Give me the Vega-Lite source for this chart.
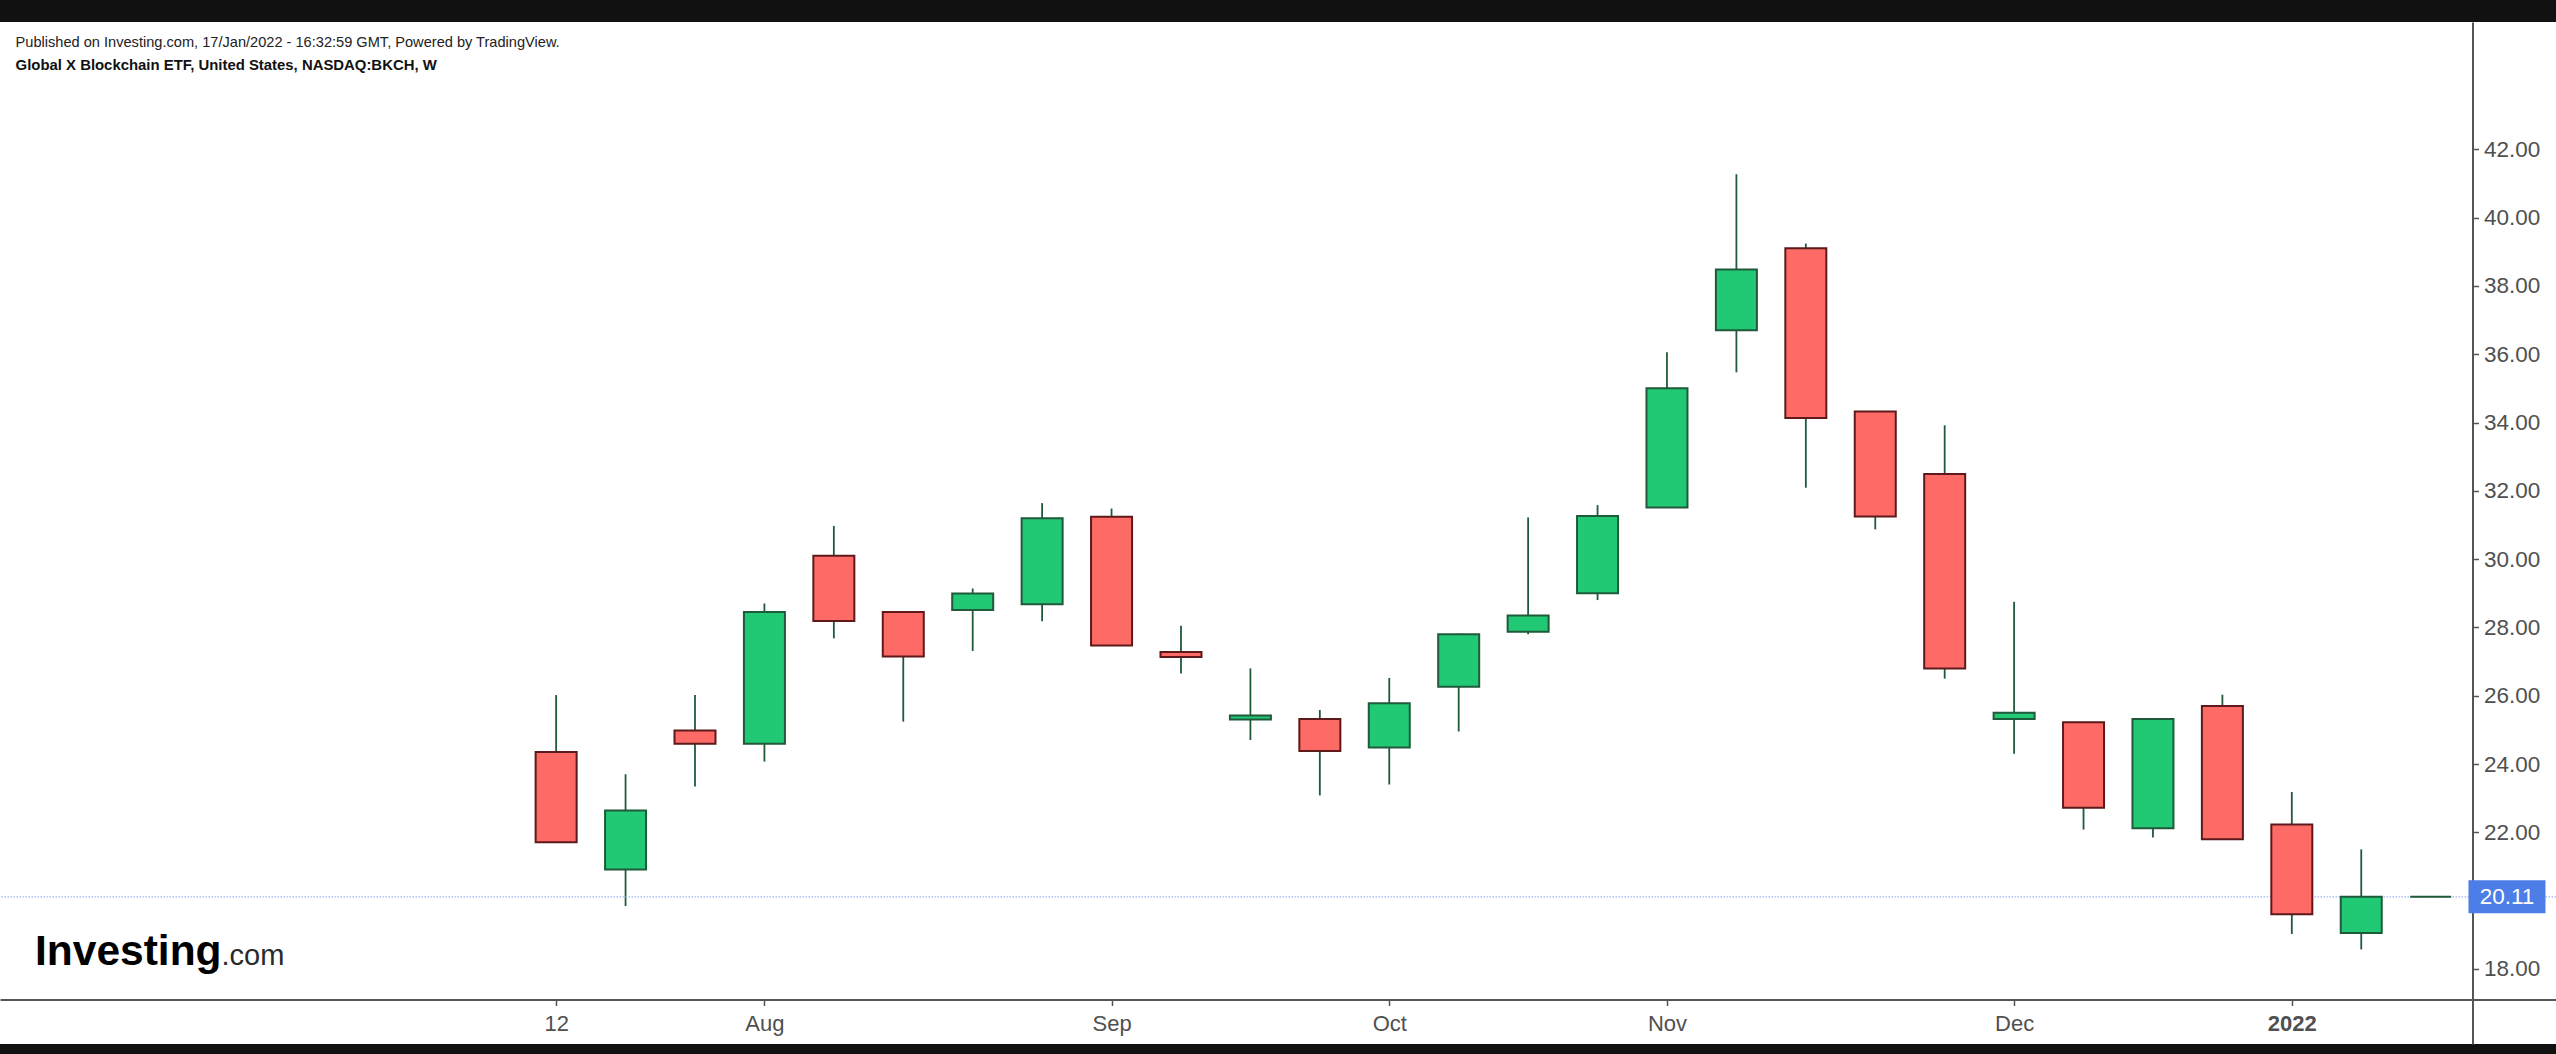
{
  "$schema": "https://vega.github.io/schema/vega-lite/v6.json",
  "width": 2556,
  "height": 1022,
  "autosize": {"type": "none"},
  "padding": {"left": 0, "right": 0, "top": 22, "bottom": 10},
  "background": "#111111",
  "config": {
    "view": {"fill": "#ffffff", "stroke": null},
    "axis": {"grid": false}
  },
  "title": {
    "text": "Published on Investing.com, 17/Jan/2022 - 16:32:59 GMT, Powered by TradingView.",
    "subtitle": "Global X Blockchain ETF, United States, NASDAQ:BKCH, W",
    "anchor": "start",
    "frame": "group",
    "orient": "top",
    "offset": -51,
    "dx": 15.6,
    "font": "Liberation Sans",
    "fontSize": 14.6,
    "fontWeight": "normal",
    "color": "#222222",
    "subtitleFont": "Liberation Sans",
    "subtitleFontSize": 14.9,
    "subtitleFontWeight": "bold",
    "subtitleColor": "#111111",
    "subtitlePadding": 8.6
  },
  "data": {
    "values": [
      {"date": "2021-07-12", "open": 24.35, "high": 26.02, "low": 21.71, "close": 21.71},
      {"date": "2021-07-19", "open": 20.91, "high": 23.70, "low": 19.84, "close": 22.64},
      {"date": "2021-07-26", "open": 24.98, "high": 26.02, "low": 23.34, "close": 24.59},
      {"date": "2021-08-02", "open": 24.59, "high": 28.70, "low": 24.07, "close": 28.45},
      {"date": "2021-08-09", "open": 30.10, "high": 30.97, "low": 27.68, "close": 28.19},
      {"date": "2021-08-16", "open": 28.45, "high": 28.45, "low": 25.24, "close": 27.15},
      {"date": "2021-08-23", "open": 28.51, "high": 29.14, "low": 27.31, "close": 28.99},
      {"date": "2021-08-30", "open": 28.68, "high": 31.64, "low": 28.18, "close": 31.20},
      {"date": "2021-09-06", "open": 31.24, "high": 31.48, "low": 27.47, "close": 27.47},
      {"date": "2021-09-13", "open": 27.28, "high": 28.05, "low": 26.65, "close": 27.13},
      {"date": "2021-09-20", "open": 25.30, "high": 26.80, "low": 24.70, "close": 25.42},
      {"date": "2021-09-27", "open": 25.32, "high": 25.58, "low": 23.08, "close": 24.38},
      {"date": "2021-10-04", "open": 24.48, "high": 26.52, "low": 23.40, "close": 25.78},
      {"date": "2021-10-11", "open": 26.26, "high": 27.82, "low": 24.95, "close": 27.80},
      {"date": "2021-10-18", "open": 27.87, "high": 31.22, "low": 27.80, "close": 28.35},
      {"date": "2021-10-25", "open": 29.00, "high": 31.58, "low": 28.80, "close": 31.26},
      {"date": "2021-11-01", "open": 31.51, "high": 36.06, "low": 31.51, "close": 35.00},
      {"date": "2021-11-08", "open": 36.70, "high": 41.27, "low": 35.47, "close": 38.48},
      {"date": "2021-11-15", "open": 39.10, "high": 39.24, "low": 32.09, "close": 34.13},
      {"date": "2021-11-22", "open": 34.32, "high": 34.32, "low": 30.87, "close": 31.25},
      {"date": "2021-11-29", "open": 32.49, "high": 33.92, "low": 26.50, "close": 26.80},
      {"date": "2021-12-06", "open": 25.32, "high": 28.75, "low": 24.30, "close": 25.50},
      {"date": "2021-12-13", "open": 25.22, "high": 25.22, "low": 22.08, "close": 22.72},
      {"date": "2021-12-20", "open": 22.12, "high": 25.33, "low": 21.85, "close": 25.32},
      {"date": "2021-12-27", "open": 25.70, "high": 26.03, "low": 21.80, "close": 21.80},
      {"date": "2022-01-03", "open": 22.23, "high": 23.18, "low": 19.02, "close": 19.60},
      {"date": "2022-01-10", "open": 19.05, "high": 21.50, "low": 18.57, "close": 20.11},
      {"date": "2022-01-17", "open": 20.11, "high": 20.11, "low": 20.11, "close": 20.11}
    ]
  },
  "layer": [
    {
      "mark": {"type": "rule", "color": "#1f5a3a", "strokeWidth": 1.8},
      "encoding": {
        "x": {
          "field": "date", "type": "temporal",
          "scale": {"type": "utc", "domain": [
            {"year": 2021, "month": 5, "date": 17, "hours": 10, "minutes": 22, "utc": true},
            {"year": 2022, "month": 1, "date": 29, "hours": 3, "minutes": 10, "utc": true}
          ]},
          "axis": {
            "orient": "bottom",
            "offset": -44.5,
            "values": [
              {"year": 2021, "month": 7, "date": 12, "utc": true},
              {"year": 2021, "month": 8, "date": 2, "utc": true},
              {"year": 2021, "month": 9, "date": 6, "utc": true},
              {"year": 2021, "month": 10, "date": 4, "utc": true},
              {"year": 2021, "month": 11, "date": 1, "utc": true},
              {"year": 2021, "month": 12, "date": 6, "utc": true},
              {"year": 2022, "month": 1, "date": 3, "utc": true}
            ],
            "labelExpr": "utcmonth(datum.value) == 6 ? '12' : (utcmonth(datum.value) == 0 ? '2022' : utcFormat(datum.value, '%b'))",
            "labelFontWeight": {"condition": {"test": "utcyear(datum.value) == 2022", "value": "bold"}, "value": "normal"},
            "labelFont": "Liberation Sans",
            "labelFontSize": 22,
            "labelColor": "#505050",
            "labelPadding": 8,
            "labelFlush": false,
            "labelOverlap": false,
            "domainColor": "#555555",
            "domainWidth": 2,
            "tickColor": "#555555",
            "tickWidth": 1.5,
            "tickSize": 6,
            "title": "Investing",
            "titleX": 34.5,
            "titleY": -35.5,
            "titleAlign": "left",
            "titleBaseline": "alphabetic",
            "titleAngle": 0,
            "titleFont": "Liberation Sans",
            "titleFontSize": 42.5,
            "titleFontWeight": "bold",
            "titleColor": "#000000"
          }
        },
        "y": {
          "field": "low", "type": "quantitative",
          "scale": {"domain": [15.801, 45.728], "nice": false, "zero": false},
          "axis": {
            "orient": "right",
            "offset": -83.5,
            "values": [18, 22, 24, 26, 28, 30, 32, 34, 36, 38, 40, 42],
            "format": ".2f",
            "labelFont": "Liberation Sans",
            "labelFontSize": 22.5,
            "labelColor": "#505050",
            "labelPadding": 5,
            "labelBaseline": "middle",
            "labelFlush": false,
            "labelOverlap": false,
            "domainColor": "#555555",
            "domainWidth": 2,
            "tickColor": "#555555",
            "tickWidth": 1.5,
            "tickSize": 6,
            "title": ".com",
            "titleX": -2251.5,
            "titleY": 942,
            "titleAlign": "left",
            "titleBaseline": "alphabetic",
            "titleAngle": 0,
            "titleFont": "Liberation Sans",
            "titleFontSize": 29,
            "titleFontWeight": "normal",
            "titleColor": "#2a2a2a"
          }
        },
        "y2": {"field": "high"}
      }
    },
    {
      "transform": [{"filter": "utcyear(datum.date) == 2022 && utcdate(datum.date) == 17"}],
      "mark": {"type": "rule", "color": "#9fb4f2", "strokeWidth": 1.2, "strokeDash": [1.5, 1.5]},
      "encoding": {
        "y": {"field": "close", "type": "quantitative"}
      }
    },
    {
      "mark": {"type": "bar", "width": 41, "strokeWidth": 2},
      "encoding": {
        "x": {"field": "date", "type": "temporal"},
        "y": {"field": "open", "type": "quantitative"},
        "y2": {"field": "close"},
        "fill": {"condition": {"test": "datum.close >= datum.open", "value": "#22c974"}, "value": "#fe6a66"},
        "stroke": {"condition": {"test": "datum.close >= datum.open", "value": "#1f5a3a"}, "value": "#5e1a1a"}
      }
    },
    {
      "transform": [{"filter": "utcyear(datum.date) == 2022 && utcdate(datum.date) == 17"}],
      "mark": {"type": "rect", "color": "#4d7de6", "xOffset": 37.8, "x2Offset": 114.8, "yOffset": -16.5, "y2Offset": 16.5},
      "encoding": {
        "x": {"field": "date", "type": "temporal"},
        "x2": {"field": "date"},
        "y": {"field": "close", "type": "quantitative"},
        "y2": {"field": "close"}
      }
    },
    {
      "transform": [{"filter": "utcyear(datum.date) == 2022 && utcdate(datum.date) == 17"}],
      "mark": {"type": "text", "color": "#ffffff", "font": "Liberation Sans", "fontSize": 22.5, "align": "center", "baseline": "middle", "dx": 76.3},
      "encoding": {
        "x": {"field": "date", "type": "temporal"},
        "y": {"field": "close", "type": "quantitative"},
        "text": {"field": "close", "type": "quantitative", "format": ".2f"}
      }
    }
  ]
}
